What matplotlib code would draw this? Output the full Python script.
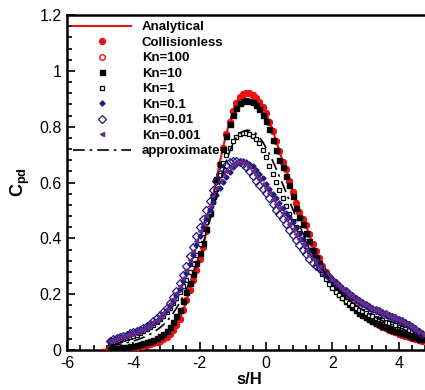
import numpy as np
import matplotlib
matplotlib.use('Agg')
import matplotlib.pyplot as plt
from matplotlib.ticker import MultipleLocator

plt.rcParams['font.family'] = ['Liberation Sans', 'DejaVu Sans']
plt.rcParams['mathtext.fontset'] = 'custom'
plt.rcParams['mathtext.rm'] = 'Liberation Sans'
plt.rcParams['mathtext.bf'] = 'Liberation Sans:bold'
plt.rcParams['axes.unicode_minus'] = False

# sample positions along the surface (s/H)
s = np.linspace(-4.7, 4.7, 95)

# analytical curve starts a little further left
head_s = [-5.0, -4.9, -4.8]
head_c = [0.000, 0.001, 0.002]

analytical = [
    0.003, 0.004, 0.005, 0.006, 0.007, 0.008, 0.009, 0.010, 0.011, 0.013,
    0.015, 0.017, 0.020, 0.024, 0.028, 0.032, 0.038, 0.046, 0.058, 0.072,
    0.088, 0.112, 0.142, 0.178, 0.215, 0.250, 0.285, 0.325, 0.370, 0.425,
    0.487, 0.550, 0.610, 0.668, 0.724, 0.774, 0.818, 0.856, 0.886, 0.906,
    0.917, 0.921, 0.920, 0.914, 0.904, 0.890, 0.870, 0.848, 0.818, 0.785,
    0.750, 0.713, 0.675, 0.648, 0.607, 0.566, 0.527, 0.495, 0.470, 0.446,
    0.414, 0.378, 0.355, 0.330, 0.300, 0.278, 0.260, 0.241, 0.225, 0.211,
    0.197, 0.184, 0.172, 0.160, 0.149, 0.138, 0.128, 0.119, 0.111, 0.103,
    0.096, 0.089, 0.083, 0.078, 0.073, 0.068, 0.063, 0.059, 0.055, 0.051,
    0.047, 0.043, 0.039, 0.035, 0.031]

collisionless = analytical
kn100 = analytical

kn10 = [
    0.005, 0.006, 0.007, 0.008, 0.010, 0.011, 0.013, 0.016, 0.018, 0.021,
    0.024, 0.028, 0.032, 0.036, 0.042, 0.049, 0.058, 0.068, 0.082, 0.100,
    0.122, 0.145, 0.175, 0.208, 0.240, 0.272, 0.310, 0.348, 0.385, 0.435,
    0.492, 0.553, 0.612, 0.668, 0.720, 0.768, 0.808, 0.842, 0.868, 0.884,
    0.892, 0.894, 0.893, 0.888, 0.878, 0.862, 0.842, 0.820, 0.790, 0.752,
    0.715, 0.682, 0.655, 0.625, 0.590, 0.552, 0.508, 0.478, 0.450, 0.420,
    0.392, 0.360, 0.333, 0.310, 0.288, 0.267, 0.250, 0.233, 0.216, 0.202,
    0.189, 0.176, 0.164, 0.153, 0.143, 0.134, 0.126, 0.118, 0.111, 0.104,
    0.098, 0.092, 0.087, 0.082, 0.077, 0.072, 0.068, 0.064, 0.060, 0.056,
    0.052, 0.048, 0.045, 0.041, 0.038]

kn1 = [
    0.026, 0.029, 0.032, 0.035, 0.038, 0.042, 0.046, 0.050, 0.055, 0.061,
    0.067, 0.074, 0.081, 0.089, 0.099, 0.110, 0.122, 0.136, 0.150, 0.168,
    0.188, 0.207, 0.228, 0.251, 0.280, 0.308, 0.340, 0.380, 0.420, 0.458,
    0.495, 0.530, 0.578, 0.628, 0.670, 0.700, 0.725, 0.748, 0.764, 0.773,
    0.777, 0.778, 0.775, 0.768, 0.755, 0.740, 0.717, 0.690, 0.660, 0.630,
    0.603, 0.574, 0.545, 0.515, 0.487, 0.463, 0.440, 0.418, 0.396, 0.374,
    0.353, 0.333, 0.313, 0.293, 0.273, 0.254, 0.238, 0.223, 0.208, 0.196,
    0.186, 0.177, 0.168, 0.160, 0.152, 0.144, 0.138, 0.132, 0.126, 0.121,
    0.116, 0.111, 0.106, 0.101, 0.097, 0.092, 0.088, 0.084, 0.080, 0.076,
    0.073, 0.069, 0.065, 0.060, 0.056]

kn01 = [
    0.032, 0.036, 0.040, 0.044, 0.048, 0.052, 0.056, 0.060, 0.064, 0.069,
    0.075, 0.081, 0.088, 0.096, 0.105, 0.116, 0.128, 0.142, 0.158, 0.176,
    0.197, 0.220, 0.246, 0.275, 0.307, 0.340, 0.375, 0.410, 0.440, 0.470,
    0.500, 0.530, 0.556, 0.580, 0.602, 0.620, 0.638, 0.655, 0.667, 0.674,
    0.676, 0.673, 0.667, 0.658, 0.646, 0.632, 0.616, 0.596, 0.578, 0.560,
    0.544, 0.527, 0.510, 0.492, 0.476, 0.457, 0.437, 0.417, 0.397, 0.378,
    0.358, 0.340, 0.322, 0.306, 0.290, 0.276, 0.263, 0.251, 0.240, 0.229,
    0.219, 0.210, 0.200, 0.191, 0.182, 0.173, 0.166, 0.159, 0.153, 0.147,
    0.142, 0.137, 0.132, 0.127, 0.122, 0.118, 0.113, 0.108, 0.103, 0.097,
    0.090, 0.083, 0.075, 0.065, 0.055]

kn001 = [
    0.034, 0.038, 0.042, 0.047, 0.051, 0.055, 0.060, 0.064, 0.068, 0.073,
    0.079, 0.086, 0.094, 0.103, 0.113, 0.124, 0.137, 0.152, 0.170, 0.190,
    0.213, 0.240, 0.268, 0.300, 0.335, 0.370, 0.408, 0.442, 0.470, 0.500,
    0.535, 0.572, 0.605, 0.630, 0.650, 0.664, 0.672, 0.676, 0.677, 0.675,
    0.668, 0.655, 0.640, 0.622, 0.605, 0.590, 0.575, 0.561, 0.545, 0.523,
    0.503, 0.488, 0.470, 0.450, 0.430, 0.412, 0.394, 0.377, 0.360, 0.343,
    0.326, 0.313, 0.301, 0.292, 0.282, 0.272, 0.261, 0.250, 0.240, 0.230,
    0.220, 0.211, 0.201, 0.192, 0.183, 0.174, 0.167, 0.160, 0.154, 0.148,
    0.143, 0.138, 0.133, 0.128, 0.123, 0.119, 0.114, 0.109, 0.104, 0.098,
    0.091, 0.084, 0.076, 0.066, 0.056]

kn0001 = [
    0.033, 0.037, 0.041, 0.045, 0.049, 0.053, 0.058, 0.062, 0.066, 0.071,
    0.077, 0.083, 0.091, 0.099, 0.109, 0.120, 0.132, 0.147, 0.164, 0.183,
    0.205, 0.230, 0.257, 0.288, 0.321, 0.355, 0.392, 0.426, 0.455, 0.485,
    0.517, 0.551, 0.580, 0.605, 0.626, 0.642, 0.655, 0.665, 0.672, 0.675,
    0.673, 0.666, 0.655, 0.641, 0.626, 0.611, 0.596, 0.579, 0.562, 0.541,
    0.523, 0.507, 0.490, 0.471, 0.453, 0.434, 0.415, 0.397, 0.378, 0.360,
    0.342, 0.326, 0.311, 0.299, 0.286, 0.274, 0.262, 0.251, 0.240, 0.230,
    0.220, 0.211, 0.201, 0.192, 0.183, 0.174, 0.167, 0.160, 0.154, 0.148,
    0.143, 0.138, 0.133, 0.128, 0.123, 0.119, 0.114, 0.109, 0.104, 0.098,
    0.091, 0.084, 0.076, 0.066, 0.056]

approximate = [
    0.015, 0.017, 0.019, 0.021, 0.023, 0.026, 0.029, 0.032, 0.036, 0.040,
    0.045, 0.050, 0.056, 0.063, 0.071, 0.080, 0.090, 0.102, 0.116, 0.132,
    0.150, 0.170, 0.193, 0.218, 0.245, 0.275, 0.308, 0.343, 0.380, 0.420,
    0.462, 0.505, 0.550, 0.595, 0.637, 0.676, 0.710, 0.738, 0.760, 0.775,
    0.783, 0.787, 0.787, 0.783, 0.775, 0.762, 0.745, 0.724, 0.702, 0.677,
    0.650, 0.622, 0.594, 0.565, 0.535, 0.505, 0.476, 0.448, 0.421, 0.396,
    0.372, 0.349, 0.328, 0.308, 0.289, 0.271, 0.255, 0.240, 0.226, 0.213,
    0.201, 0.190, 0.180, 0.170, 0.161, 0.152, 0.144, 0.137, 0.130, 0.123,
    0.117, 0.111, 0.105, 0.100, 0.095, 0.090, 0.085, 0.080, 0.076, 0.071,
    0.067, 0.063, 0.059, 0.055, 0.051]

fig = plt.figure(figsize=(4.25, 3.9), dpi=100)
ax = fig.add_axes([67 / 425, 40 / 390, 365 / 425, 335 / 390])

red = '#ee1111'
navy = '#1c1c80'
purple = '#6a2a8a'

ax.plot(list(head_s) + list(s), head_c + analytical, color=red, lw=1.5,
        label='Analytical', zorder=3)
ax.plot(s, collisionless, 'o', color=red, ms=4.2, label='Collisionless', zorder=3)
# Kn=100 sits underneath the collisionless dots
ax.plot(s, kn100, 'o', mfc='white', mec=red, mew=1.0, ms=4.0, label='Kn=100', zorder=2)
ax.plot(s, kn10, 's', color='black', ms=3.6, label='Kn=10', zorder=4)
ax.plot(s, kn1, 's', mfc='white', mec='black', mew=0.9, ms=3.4, label='Kn=1', zorder=4)
ax.plot(s, kn01, 'D', color=navy, ms=2.6, label='Kn=0.1', zorder=4)
ax.plot(s, kn001, 'D', mfc='none', mec=navy, mew=0.9, ms=3.6, label='Kn=0.01', zorder=4)
ax.plot(s, kn0001, '<', color=purple, ms=3.0, label='Kn=0.001', zorder=4)
ax.plot(s, approximate, color='black', lw=1.2, dashes=(7, 3, 1.5, 3),
        label='approximate', zorder=4)

ax.set_xlim(-6, 5)
ax.set_ylim(0, 1.2)
ax.xaxis.set_major_locator(MultipleLocator(2))
ax.xaxis.set_minor_locator(MultipleLocator(0.4))
ax.yaxis.set_minor_locator(MultipleLocator(0.04))
ax.set_yticks([0, 0.2, 0.4, 0.6, 0.8, 1.0, 1.2])
ax.set_yticklabels(['0', '0.2', '0.4', '0.6', '0.8', '1', '1.2'])

ax.tick_params(which='both', direction='in', top=False, right=False,
               labelsize=11.5, width=1.2)
ax.tick_params(which='major', length=6, pad=4)
ax.tick_params(which='minor', length=3.5)
for sp in ax.spines.values():
    sp.set_linewidth(1.8)

ax.set_xlabel('s/H', fontsize=12, fontweight='bold', labelpad=1)
ax.set_ylabel(r'$\mathbf{C}_{\mathbf{pd}}$', fontsize=13, labelpad=5)

ax.legend(loc='upper left', bbox_to_anchor=(-0.01, 1.01), frameon=False,
          prop={'weight': 'bold', 'size': 9.5}, handlelength=4.4,
          handletextpad=0.85, labelspacing=0.25, borderaxespad=0.3)

fig.savefig('out.png', dpi=100)
